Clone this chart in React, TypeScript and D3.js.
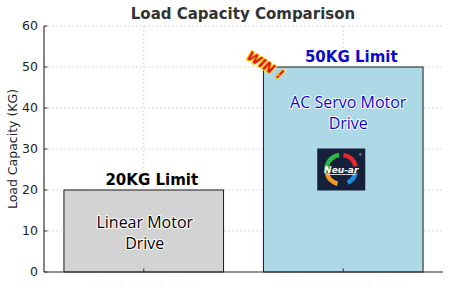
import React from "react";
import * as d3 from "d3";

const categories = ["Linear Motor Drive", "AC Servo Motor Drive"];
const capacities = [20, 50];
const barColors = ["#d3d3d3", "#add8e6"];
const limitLabels = ["20KG Limit", "50KG Limit"];
const limitColors = ["#000000", "#0a0acd"];
const innerLines = [["Linear Motor", "Drive"], ["AC Servo Motor", "Drive"]];
const innerColors = ["#000000", "#0808c8"];
const yTicks = [0, 10, 20, 30, 40, 50, 60];

const W = 450, H = 297;
const M = { left: 44, right: 7, top: 26, bottom: 25 };

export default function App() {
  const x = d3.scaleBand<string>().domain(categories).range([M.left, W - M.right]).paddingInner(0.2).paddingOuter(0.1);
  const y = d3.scaleLinear().domain([0, 60]).range([H - M.bottom, M.top]);
  const bw = x.bandwidth();
  const cx = (c: string) => (x(c) as number) + bw / 2;
  const font = "'DejaVu Sans', sans-serif";
  const innerFont = "'Open Sans', 'Noto Sans', sans-serif";

  const logoC = cx(categories[1]) - 2;
  const logoY = y(25);
  const arc = d3.arc<any>();
  const arcs = [
    { s: -1.7, e: -0.15, c: "#2fb84a" },
    { s: 0.15, e: 1.35, c: "#e8262b" },
    { s: 1.8, e: 2.7, c: "#1e90e0" },
    { s: 3.4, e: 4.5, c: "#f29a1f" },
  ];

  return (
    <svg width={W} height={H} style={{ position: "absolute", left: 0, top: 0, background: "#fff" }}>
      {/* grid */}
      {yTicks.map((t) => (
        <line key={"gy" + t} x1={M.left} x2={W - M.right} y1={y(t)} y2={y(t)} stroke="#cfcfcf" strokeWidth={0.8} strokeDasharray="2,2" />
      ))}
      {categories.map((c) => (
        <line key={"gx" + c} x1={cx(c)} x2={cx(c)} y1={M.top} y2={H - M.bottom} stroke="#cfcfcf" strokeWidth={0.8} strokeDasharray="2,2" />
      ))}
      {/* bars */}
      {categories.map((c, i) => (
        <rect key={"b" + c} x={x(c)} y={y(capacities[i])} width={bw} height={y(0) - y(capacities[i])} fill={barColors[i]} stroke="#1a1a1a" strokeWidth={1} />
      ))}
      {/* axes */}
      <line x1={M.left} x2={M.left} y1={M.top} y2={H - M.bottom} stroke="#333" strokeWidth={1.2} />
      <line x1={M.left} x2={W - M.right} y1={H - M.bottom} y2={H - M.bottom} stroke="#333" strokeWidth={1.2} />
      {yTicks.map((t) => (
        <g key={"t" + t}>
          <line x1={M.left} x2={M.left + 3.5} y1={y(t)} y2={y(t)} stroke="#333" strokeWidth={1} />
          <text x={M.left - 6} y={y(t)} dy="0.35em" textAnchor="end" fontFamily={font} fontSize={12.5} fill="#222">{t}</text>
        </g>
      ))}
      {categories.map((c) => (
        <g key={"xt" + c}>
          <line x1={cx(c)} x2={cx(c)} y1={H - M.bottom} y2={H - M.bottom - 3.5} stroke="#333" strokeWidth={1} />
          <text x={cx(c)} y={H - M.bottom + 16} textAnchor="middle" fontFamily={font} fontSize={12} fill="#fbfbfb">{c}</text>
        </g>
      ))}
      {/* labels */}
      <text x={243} y={19} textAnchor="middle" fontFamily={font} fontWeight="bold" fontSize={15} fill="#333">Load Capacity Comparison</text>
      <text transform={`translate(17,${(M.top + H - M.bottom) / 2}) rotate(-90)`} textAnchor="middle" fontFamily={font} fontSize={12.5} fill="#222">Load Capacity (KG)</text>
      {categories.map((c, i) => (
        <text key={"lim" + c} x={cx(c) + 8} y={y(capacities[i]) - 5} textAnchor="middle" fontFamily={font} fontWeight="bold" fontSize={15} fill={limitColors[i]}>{limitLabels[i]}</text>
      ))}
      {categories.map((c, i) => {
        const base = i === 0 ? y(capacities[i]) + 38 : y(capacities[i]) + 41;
        return innerLines[i].map((ln, k) => (
          <text key={"in" + i + k} x={cx(c) + (i === 1 ? 5 : 1)} y={base + k * 21} textAnchor="middle" fontFamily={innerFont} fontSize={16} fill={innerColors[i]} stroke="#fff" strokeWidth={2} paintOrder="stroke" strokeLinejoin="round">{ln}</text>
        ));
      })}
      {/* WIN ! */}
      <text transform={`translate(263,69) rotate(32)`} textAnchor="middle" fontFamily={font} fontWeight="bold" fontStyle="italic" fontSize={13} fill="#e3141c" stroke="#ffd21a" strokeWidth={2.2} paintOrder="stroke" strokeLinejoin="round">WIN !</text>
      {/* logo */}
      <g>
        <rect x={logoC - 24} y={logoY - 21} width={48} height={42} fill="#16203a" />
        {arcs.map((a, k) => (
          <path key={"arc" + k} transform={`translate(${logoC},${logoY})`} d={arc({ innerRadius: 12.5, outerRadius: 17, startAngle: a.s, endAngle: a.e }) as string} fill={a.c} />
        ))}
        <text x={logoC} y={logoY + 3} textAnchor="middle" fontFamily={font} fontWeight="bold" fontStyle="italic" fontSize={9} fill="#fff">Neu-ar</text>
        <line x1={logoC - 14} x2={logoC + 14} y1={logoY + 5} y2={logoY + 5} stroke="#fff" strokeWidth={0.8} />
        <text x={logoC + 19} y={logoY - 14} textAnchor="middle" fontFamily={font} fontSize={4} fill="#bbb">®</text>
      </g>
    </svg>
  );
}
